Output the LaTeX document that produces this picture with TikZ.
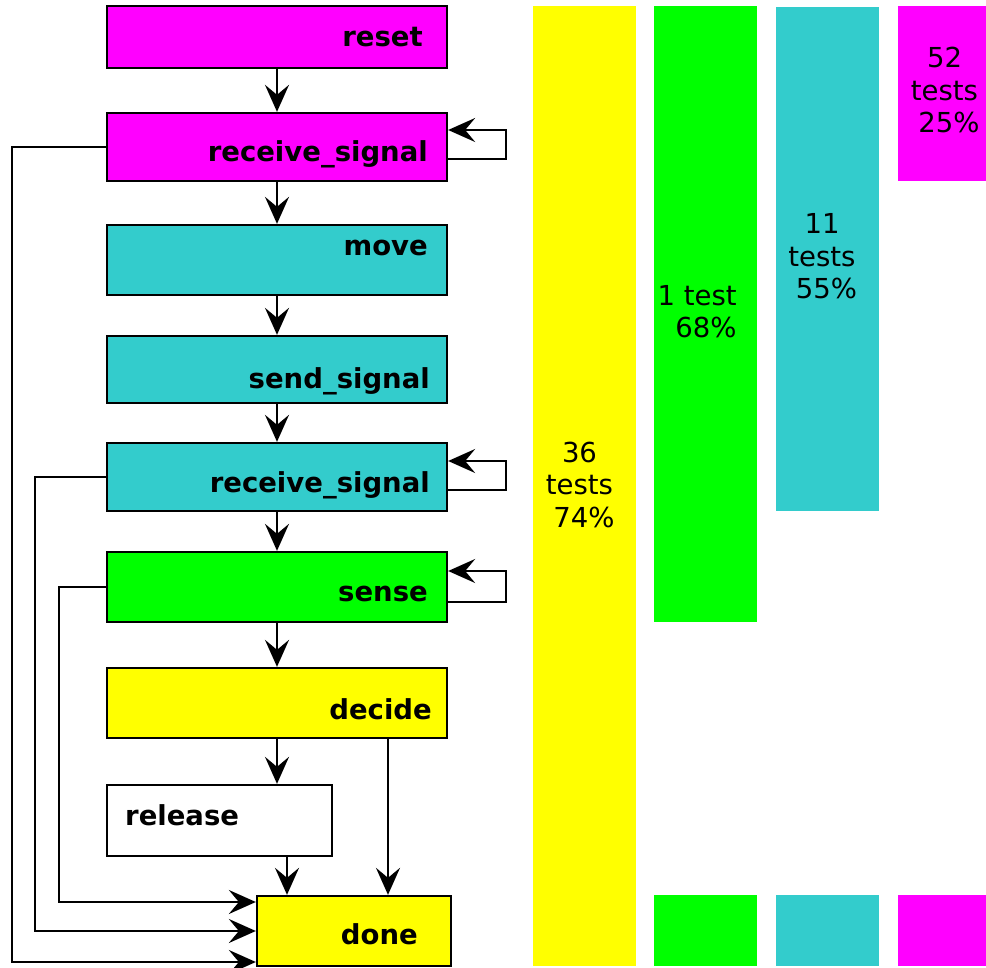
\documentclass[tikz,border=0pt]{standalone}
\usepackage{fontspec}
\setmainfont{DejaVu Sans}
\usetikzlibrary{arrows.meta}

\definecolor{turq}{HTML}{33CCCC}
\definecolor{pink}{HTML}{FF00FF}
\definecolor{lime}{HTML}{00FF00}
\definecolor{lemon}{HTML}{FFFF00}
\newcommand{\pad}{\hspace*{.318em}}

\begin{document}
\begin{tikzpicture}[
    x=1pt,y=-1pt,
    state/.style={draw, line width=2.3pt, rectangle, minimum width=340pt, inner sep=0pt},
    lbl/.style={font=\fontsize{27.5}{33}\selectfont\bfseries, anchor=base east, inner sep=0pt},
    flow/.style={line width=2.3pt, -{Stealth[length=27pt,width=24pt,inset=10pt]}},
    count/.style={font=\fontsize{27.5}{32.5}\selectfont, align=center, anchor=base, inner sep=0pt}
    ]
    \useasboundingbox (0,0) rectangle (986,968);

    \node[state, fill=pink, minimum height=62pt] (reset) at (277,37) {};
    \node[state, fill=pink, minimum height=68pt] (recvA) at (277,147) {};
    \node[state, fill=turq, minimum height=70pt] (move) at (277,260) {};
    \node[state, fill=turq, minimum height=67pt] (send) at (277,369.5) {};
    \node[state, fill=turq, minimum height=68pt] (recvB) at (277,477) {};
    \node[state, fill=lime, minimum height=70pt] (sense) at (277,587) {};
    \node[state, fill=lemon, minimum height=70pt] (decide) at (277,703) {};
    \node[state, fill=white, minimum width=225pt, minimum height=71pt] (release) at (219.5,820.5) {};
    \node[state, fill=lemon, minimum width=194pt, minimum height=70pt] (done) at (354,931) {};

    \node[lbl] (resetl) at (423,47) {reset};
    \node[lbl] (recvAl) at (428,162) {receive\_signal};
    \node[lbl] (movel) at (428,256) {move};
    \node[lbl] (sendl) at (430,389) {send\_signal};
    \node[lbl] (recvBl) at (430,492) {receive\_signal};
    \node[lbl] (sensel) at (428,601) {sense};
    \node[lbl] (decidel) at (432,719) {decide};
    \node[lbl, anchor=base west] (releasel) at (125,825) {release};
    \node[lbl] (donel) at (418,944) {done};

    \draw[flow] (reset) -- (recvA);
    \draw[flow] (recvA) -- (move);
    \draw[flow] (move) -- (send);
    \draw[flow] (send) -- (recvB);
    \draw[flow] (recvB) -- (sense);
    \draw[flow] (sense) -- (decide);
    \draw[flow] (decide.south) -- (decide.south |- release.north);
    \draw[flow] ([xshift=-67pt]done.north |- release.south) -- ([xshift=-67pt]done.north);
    \draw[flow] ([xshift=34pt]done.north |- decide.south) -- ([xshift=34pt]done.north);

    \draw[flow] ([yshift=-12pt]recvA.east) -- ++(58,0) |- ([yshift=17pt]recvA.east);
    \draw[flow] ([yshift=-13pt]recvB.east) -- ++(58,0) |- ([yshift=16pt]recvB.east);
    \draw[flow] ([yshift=-15pt]sense.east) -- ++(58,0) |- ([yshift=16pt]sense.east);

    \draw[flow] (recvA.west) -- ++(-94,0) |- ([yshift=-31pt]done.west);
    \draw[flow] (recvB.west) -- ++(-71,0) |- (done.west);
    \draw[flow] (sense.west) -- ++(-47,0) |- ([yshift=29pt]done.west);

    \fill[lemon] (533,6) rectangle (636,966);
    \fill[lime] (654,6) rectangle (757,622);
    \fill[lime] (654,895) rectangle (757,966);
    \fill[turq] (776,7) rectangle (879,511);
    \fill[turq] (776,895) rectangle (879,966);
    \fill[pink] (898,6) rectangle (986,181);
    \fill[pink] (898,895) rectangle (986,966);

    \node[count] (lemonc) at (579.5,527) {36\\tests\pad\\\pad74\%};
    \node[count] (limec) at (701.5,338) {1 test\pad\\\pad68\%};
    \node[count] (turqc) at (822,299) {11\\tests\\\pad55\%};
    \node[count] (pinkc) at (944.5,133) {52\\tests\\\pad25\%};
  \end{tikzpicture}
\end{document}
